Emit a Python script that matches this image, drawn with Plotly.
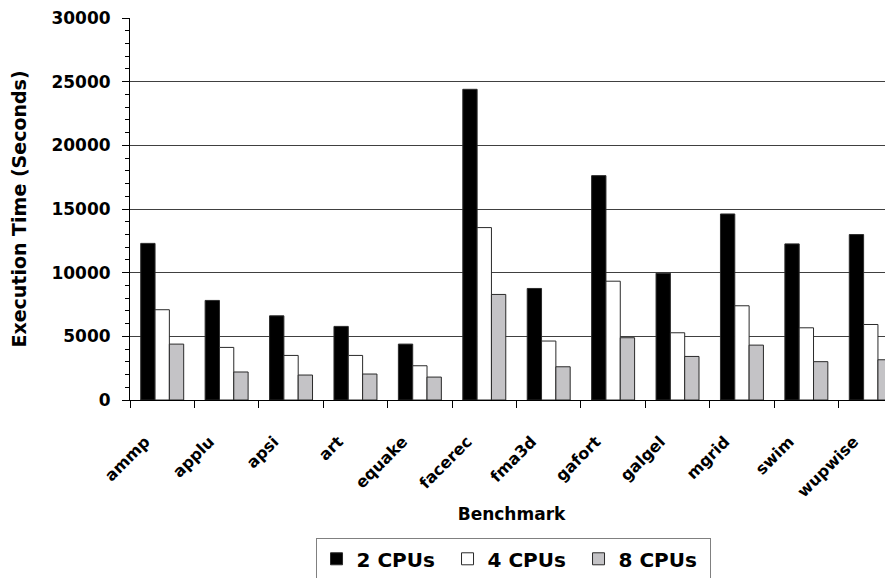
import plotly.graph_objects as go

benchmarks = ["ammp", "applu", "apsi", "art", "equake", "facerec",
              "fma3d", "gafort", "galgel", "mgrid", "swim", "wupwise"]
cpu2 = [12300, 7820, 6610, 5780, 4390, 24400, 8760, 17620, 9960, 14610, 12260, 12990]
cpu4 = [7090, 4130, 3500, 3500, 2690, 13540, 4630, 9330, 5280, 7400, 5670, 5930]
cpu8 = [4390, 2200, 1960, 2040, 1800, 8290, 2610, 4890, 3420, 4310, 3010, 3160]

series = [("2 CPUs", cpu2, "#000000"), ("4 CPUs", cpu4, "#ffffff"), ("8 CPUs", cpu8, "#c4c3c6")]

FONT = "DejaVu Sans"

fig = go.Figure()
for name, vals, col in series:
    fig.add_trace(go.Bar(
        x=benchmarks, y=vals, name=name,
        marker=dict(color=col, line=dict(color="#2a2a2a", width=1)),
    ))

# the page body adds an 8px offset; margins compensate for it
fig.update_layout(
    width=893, height=578,
    margin=dict(l=122, r=8, t=10, b=186, autoexpand=False),
    paper_bgcolor="white", plot_bgcolor="white",
    barmode="group", bargap=0.333, bargroupgap=0,
    font=dict(family=FONT, size=16, color="black", weight="bold"),
    showlegend=True,
    legend=dict(
        orientation="h", x=0.502, xanchor="center", y=-0.362, yanchor="top",
        bordercolor="#808080", borderwidth=1, bgcolor="white",
        font=dict(family=FONT, size=20, color="black", weight="bold"),
        traceorder="normal", itemwidth=30, entrywidth=86,
    ),
    xaxis=dict(
        type="category", range=[-0.5, 11.345], automargin=False,
        tickangle=-45, tickson="boundaries", ticks="outside", ticklen=7,
        tickcolor="black", showline=True, linecolor="black", linewidth=1,
        showgrid=False, ticklabelstandoff=25, ticklabelshift=-17,
        tickfont=dict(family=FONT, size=16, color="black", weight="bold"),
        title=dict(text="Benchmark", standoff=8,
                   font=dict(family=FONT, size=17, color="black", weight="bold")),
    ),
    yaxis=dict(
        range=[0, 30000], tickmode="array", automargin=False,
        tickvals=[0, 5000, 10000, 15000, 20000, 25000, 30000],
        ticktext=["0", "5000", "10000", "15000", "20000", "25000", "30000"],
        ticks="outside", ticklen=7, tickcolor="black",
        showline=True, linecolor="black", linewidth=1,
        showgrid=True, gridcolor="#404040", gridwidth=1,
        zeroline=False, ticklabelstandoff=8, ticklabeloverflow="allow",
        minor=dict(dtick=1000, ticks="outside", ticklen=4, tickcolor="black", showgrid=False),
        tickfont=dict(family=FONT, size=17, color="black", weight="bold"),
        title=dict(text="Execution Time (Seconds)", standoff=20,
                   font=dict(family=FONT, size=19, color="black", weight="bold")),
    ),
)

fig.write_html("out.html")
